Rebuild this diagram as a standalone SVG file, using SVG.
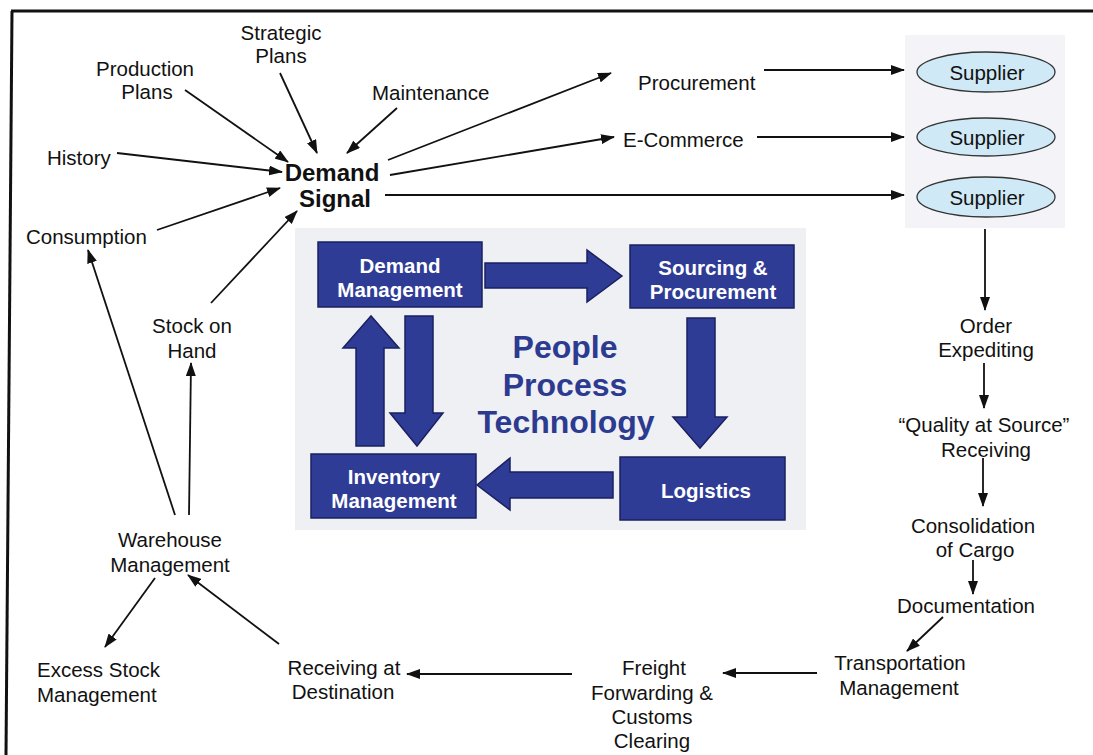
<svg xmlns="http://www.w3.org/2000/svg" width="1093" height="755" viewBox="0 0 1093 755">
<style>
.t{font-family:"Liberation Sans",Arial,sans-serif;font-size:20.5px;fill:#111;text-anchor:middle}
.tl{font-family:"Liberation Sans",Arial,sans-serif;font-size:20.5px;fill:#111}
.big{font-family:"Liberation Sans",Arial,sans-serif;font-size:24px;font-weight:bold;fill:#111;text-anchor:middle}
.bx{fill:#2f3c96;stroke:#1a2060;stroke-width:1.5}
.bt{font-family:"Liberation Sans",Arial,sans-serif;font-size:20.5px;font-weight:bold;fill:#fff;text-anchor:middle}
.ppt{font-family:"Liberation Sans",Arial,sans-serif;font-size:32px;font-weight:bold;fill:#2c3a90;text-anchor:middle}
.ba{fill:#2f3c96;stroke:#1a2060;stroke-width:1.5}
.c{stroke:#111;stroke-width:1.8;fill:none;marker-end:url(#ah)}
.sup{fill:#cfe9f7;stroke:#333;stroke-width:1.3}
</style>
<defs>
<marker id="ah" markerUnits="userSpaceOnUse" markerWidth="14" markerHeight="10" refX="13" refY="5" orient="auto">
<path d="M0,0 L14,5 L0,10 z" fill="#111"/>
</marker>
</defs>
<rect width="1093" height="755" fill="#fff"/>
<!-- frame -->
<line x1="11" y1="11" x2="1093" y2="11" stroke="#111" stroke-width="3"/>
<line x1="12" y1="11" x2="6" y2="755" stroke="#111" stroke-width="3"/>

<!-- supplier panel -->
<rect x="905" y="35" width="160" height="193" fill="#f4f3f7"/>
<!-- central panel -->
<rect x="295" y="228" width="511" height="302" fill="#eff0f4"/>

<g id="connectors">
<line class="c" x1="185" y1="90" x2="288" y2="162"/>
<line class="c" x1="280" y1="73" x2="317" y2="153"/>
<line class="c" x1="397" y1="108" x2="347" y2="153"/>
<line class="c" x1="117" y1="153" x2="282" y2="172"/>
<line class="c" x1="157" y1="230" x2="280" y2="188"/>
<line class="c" x1="211" y1="303" x2="297" y2="211"/>
<line class="c" x1="388" y1="160" x2="611" y2="73"/>
<line class="c" x1="390" y1="175" x2="614" y2="137"/>
<line class="c" x1="385" y1="195" x2="904" y2="195"/>
<line class="c" x1="764" y1="70" x2="904" y2="70"/>
<line class="c" x1="757" y1="137" x2="904" y2="137"/>
<line class="c" x1="985" y1="229" x2="985" y2="310"/>
<line class="c" x1="984" y1="363" x2="984" y2="408"/>
<line class="c" x1="983" y1="458" x2="983" y2="506"/>
<line class="c" x1="973" y1="560" x2="973" y2="594"/>
<line class="c" x1="943" y1="617" x2="907" y2="651"/>
<line class="c" x1="817" y1="673" x2="723" y2="673"/>
<line class="c" x1="572" y1="674" x2="407" y2="674"/>
<line class="c" x1="279" y1="644" x2="188" y2="575"/>
<line class="c" x1="155" y1="578" x2="105" y2="647"/>
<line class="c" x1="175" y1="515" x2="88" y2="250"/>
<line class="c" x1="189" y1="515" x2="191" y2="363"/>
</g>

<!-- block arrows -->
<g id="block-arrows">
<path class="ba" d="M485,263 L587,263 L587,250 L622,276 L587,302 L587,288 L485,288 Z"/>
<path class="ba" d="M687,318 L715,318 L715,417 L727,417 L700,448 L673,417 L687,417 Z"/>
<path class="ba" d="M613,472 L510,472 L510,458 L477,485 L510,510 L510,498 L613,498 Z"/>
<path class="ba" d="M356,446 L356,348 L343,348 L371,316 L399,348 L384,348 L384,446 Z"/>
<path class="ba" d="M405,316 L433,316 L433,413 L443,413 L417,446 L390,413 L405,413 Z"/>
</g>

<g id="demand-management"><rect class="bx" x="318" y="242" width="164" height="65"/><text class="bt" x="400" y="273">Demand</text><text class="bt" x="400" y="297">Management</text></g>
<g id="sourcing-procurement"><rect class="bx" x="630" y="245" width="164" height="63"/><text class="bt" x="713" y="275">Sourcing &amp;</text><text class="bt" x="713" y="299">Procurement</text></g>
<g id="inventory-management"><rect class="bx" x="311" y="454" width="165" height="64"/><text class="bt" x="394" y="484">Inventory</text><text class="bt" x="394" y="508">Management</text></g>
<g id="logistics"><rect class="bx" x="620" y="457" width="165" height="63"/><text class="bt" x="706" y="498">Logistics</text></g>
<g id="ppt"><text class="ppt" x="565" y="358">People</text><text class="ppt" x="565" y="396">Process</text><text class="ppt" x="566" y="433">Technology</text></g>

<g id="strategic-plans"><text class="t" x="281" y="40">Strategic</text><text class="t" x="281" y="63">Plans</text></g>
<g id="production-plans"><text class="t" x="145" y="76">Production</text><text class="t" x="147" y="99">Plans</text></g>
<g id="maintenance"><text class="tl" x="372" y="100">Maintenance</text></g>
<g id="history"><text class="tl" x="47" y="165">History</text></g>
<g id="consumption"><text class="tl" x="26" y="244">Consumption</text></g>
<g id="demand-signal"><text class="big" x="332" y="181">Demand</text><text class="big" x="335" y="207">Signal</text></g>
<g id="procurement"><text class="tl" x="638" y="90">Procurement</text></g>
<g id="ecommerce"><text class="tl" x="623" y="147">E-Commerce</text></g>
<g id="supplier1"><ellipse class="sup" cx="986" cy="72" rx="69" ry="20"/><text class="t" x="987" y="80">Supplier</text></g>
<g id="supplier2"><ellipse class="sup" cx="986" cy="137" rx="69" ry="19"/><text class="t" x="987" y="145">Supplier</text></g>
<g id="supplier3"><ellipse class="sup" cx="986" cy="197" rx="69" ry="20"/><text class="t" x="987" y="205">Supplier</text></g>
<g id="order-expediting"><text class="t" x="986" y="333">Order</text><text class="t" x="986" y="357">Expediting</text></g>
<g id="quality-receiving"><text class="t" x="984" y="432">“Quality at Source”</text><text class="t" x="986" y="457">Receiving</text></g>
<g id="consolidation"><text class="t" x="973" y="533">Consolidation</text><text class="t" x="975" y="557">of Cargo</text></g>
<g id="documentation"><text class="t" x="966" y="613">Documentation</text></g>
<g id="transportation"><text class="t" x="900" y="670">Transportation</text><text class="t" x="899" y="695">Management</text></g>
<g id="freight"><text class="t" x="654" y="675">Freight</text><text class="t" x="652" y="700">Forwarding &amp;</text><text class="t" x="652" y="724">Customs</text><text class="t" x="652" y="748">Clearing</text></g>
<g id="receiving-destination"><text class="t" x="344" y="675">Receiving at</text><text class="t" x="343" y="699">Destination</text></g>
<g id="warehouse"><text class="t" x="170" y="547">Warehouse</text><text class="t" x="170" y="572">Management</text></g>
<g id="excess-stock"><text class="tl" x="37" y="677">Excess Stock</text><text class="tl" x="37" y="702">Management</text></g>
<g id="stock-on-hand"><text class="t" x="192" y="333">Stock on</text><text class="t" x="192" y="358">Hand</text></g>
</svg>
